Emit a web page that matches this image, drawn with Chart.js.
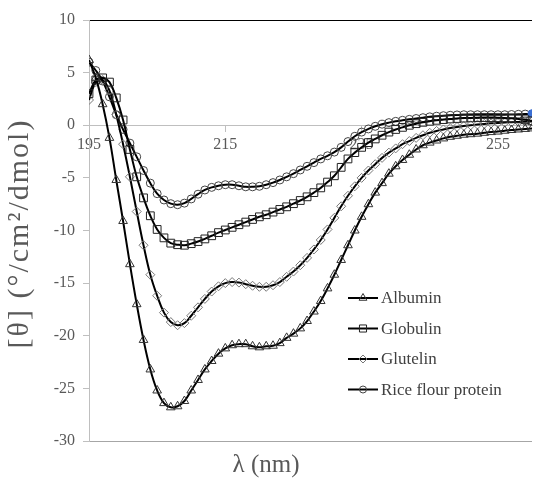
<!DOCTYPE html>
<html>
<head>
<meta charset="utf-8">
<script src="https://cdn.jsdelivr.net/npm/chart.js@4.4.1/dist/chart.umd.min.js"></script>
<style>
  html, body { margin: 0; padding: 0; background: #fff; }
  #wrap { width: 533px; height: 478px; }
</style>
</head>
<body>
<div id="wrap"><canvas id="cd"></canvas></div>
<script>
const wavelength = [195, 196, 197, 198, 199, 200, 201, 202, 203, 204, 205, 206, 207, 208, 209, 210,
  211, 212, 213, 214, 215, 216, 217, 218, 219, 220, 221, 222, 223, 224, 225, 226, 227, 228, 229, 230,
  231, 232, 233, 234, 235, 236, 237, 238, 239, 240, 241, 242, 243, 244, 245, 246, 247, 248, 249, 250,
  251, 252, 253, 254, 255, 256, 257, 258, 259, 260];

const albumin = [6.2, 4.5, 2.0, -1.2, -5.2, -9.1, -13.2, -17.0, -20.4, -23.2, -25.2, -26.4, -26.8, -26.7, -26.2, -25.2,
  -24.2, -23.2, -22.4, -21.7, -21.2, -20.9, -20.8, -20.8, -21.0, -21.1, -21.0, -20.95, -20.7, -20.2, -19.8, -19.3,
  -18.6, -17.7, -16.7, -15.5, -14.2, -12.8, -11.4, -10.0, -8.7, -7.5, -6.4, -5.5, -4.6, -3.9, -3.3, -2.8,
  -2.3, -1.9, -1.65, -1.45, -1.25, -1.1, -1.0, -0.9, -0.85, -0.8, -0.72, -0.65, -0.6, -0.52, -0.45, -0.4,
  -0.35, -0.3];

const globulin = [3.0, 4.3, 4.5, 4.1, 2.6, 0.5, -2.3, -4.9, -6.9, -8.6, -9.9, -10.7, -11.2, -11.35, -11.4, -11.25,
  -11.05, -10.8, -10.5, -10.2, -9.95, -9.7, -9.45, -9.2, -8.95, -8.7, -8.5, -8.25, -8.0, -7.75, -7.45, -7.15,
  -6.8, -6.4, -5.95, -5.4, -4.8, -4.0, -3.2, -2.6, -2.1, -1.65, -1.3, -0.95, -0.65, -0.4, -0.2, 0.0,
  0.15, 0.28, 0.38, 0.47, 0.54, 0.6, 0.64, 0.68, 0.7, 0.72, 0.73, 0.73, 0.72, 0.7, 0.66, 0.6,
  0.52, 0.42];

const glutelin = [2.4, 4.1, 4.3, 3.3, 1.0, -1.8, -4.9, -8.2, -11.4, -14.2, -16.2, -17.8, -18.7, -19.0, -18.8, -18.1,
  -17.3, -16.5, -15.8, -15.3, -15.0, -14.9, -14.95, -15.1, -15.25, -15.35, -15.35, -15.2, -14.9, -14.4, -13.9, -13.3,
  -12.6, -11.8, -10.9, -9.9, -8.8, -7.7, -6.7, -5.8, -5.0, -4.3, -3.7, -3.1, -2.6, -2.2, -1.8, -1.5,
  -1.2, -0.95, -0.72, -0.54, -0.4, -0.27, -0.16, -0.07, 0.0, 0.07, 0.13, 0.18, 0.22, 0.26, 0.29, 0.32,
  0.34, 0.35];

const riceFlour = [6.0, 5.2, 4.2, 2.7, 1.0, -0.4, -1.7, -3.0, -4.3, -5.5, -6.5, -7.1, -7.45, -7.55, -7.4, -7.0,
  -6.55, -6.15, -5.9, -5.75, -5.65, -5.65, -5.75, -5.85, -5.85, -5.8, -5.65, -5.45, -5.2, -4.9, -4.6, -4.25,
  -3.9, -3.55, -3.2, -2.9, -2.55, -2.1, -1.55, -1.05, -0.65, -0.35, -0.1, 0.1, 0.25, 0.37, 0.47, 0.56,
  0.64, 0.72, 0.8, 0.86, 0.91, 0.95, 0.98, 1.0, 1.0, 1.0, 1.0, 1.0, 1.0, 1.0, 1.02, 1.04,
  1.06, 1.1];

const seriesNames = ['Albumin', 'Globulin', 'Glutelin', 'Rice flour protein'];
const xTicks = [195, 215, 235, 255];
const yTicks = [10, 5, 0, -5, -10, -15, -20, -25, -30];
const yTitle = '[θ] (°/cm²/dmol)';

const SERIF = "'Liberation Serif', 'Times New Roman', serif";
const TEXT_GREY = '#595959';

const toPoints = arr => wavelength.map((x, i) => ({ x: x, y: arr[i] }));

// Excel-like legend placed inside the plot area, plus the large y title
const insideLegend = {
    id: 'insideLegend',
    afterDraw(chart) {
        const ctx = chart.ctx;
        const area = chart.chartArea;
        ctx.save();
        ctx.translate(20, (area.top + area.bottom) / 2 + 3);
        ctx.rotate(-Math.PI / 2);
        ctx.letterSpacing = '2px';
        ctx.fillStyle = TEXT_GREY;
        ctx.font = '30px ' + SERIF;
        ctx.textAlign = 'center';
        ctx.textBaseline = 'middle';
        ctx.fillText(yTitle, 0, 0);
        ctx.restore();
    },
    afterDatasetsDraw(chart) {
        const ctx = chart.ctx;
        ctx.save();
        chart.data.datasets.forEach((ds, i) => {
            const y = 298 + i * 30.5;
            ctx.strokeStyle = '#000';
            ctx.lineWidth = 2;
            ctx.beginPath();
            ctx.moveTo(348, y);
            ctx.lineTo(378, y);
            ctx.stroke();
            ctx.strokeStyle = Array.isArray(ds.pointBorderColor) ? ds.pointBorderColor[0] : ds.pointBorderColor;
            ctx.fillStyle = 'rgba(255,255,255,0)';
            ctx.lineWidth = 1;
            Chart.helpers.drawPoint(ctx, {
                pointStyle: ds.pointStyle, radius: ds.pointRadius - 0.5, rotation: 0, borderWidth: 1
            }, 363, y);
            ctx.fillStyle = '#404040';
            ctx.font = '17px ' + SERIF;
            ctx.textAlign = 'left';
            ctx.textBaseline = 'middle';
            ctx.fillText(ds.label, 381, y + 1);
        });
        ctx.restore();
    }
};

const makeSet = (label, arr, style, radius, edge) => ({
    label: label,
    data: toPoints(arr),
    borderColor: '#000',
    borderWidth: 2,
    tension: 0.4,
    pointStyle: style,
    pointRadius: radius,
    pointBorderColor: edge,
    pointBackgroundColor: 'rgba(255,255,255,0)',
    pointBorderWidth: 1
});

const datasets = [
    makeSet(seriesNames[0], albumin, 'triangle', 5, '#333'),
    makeSet(seriesNames[1], globulin, 'rect', 5.5, '#222'),
    makeSet(seriesNames[2], glutelin, 'rectRot', 4.5, '#777'),
    makeSet(seriesNames[3], riceFlour, 'circle', 4, '#444')
];
// last rice flour point is shown selected (blue) in the original
datasets[3].pointBackgroundColor = riceFlour.map((v, i) => i === riceFlour.length - 1 ? '#3b6fd4' : 'rgba(255,255,255,0)');
datasets[3].pointBorderColor = riceFlour.map((v, i) => i === riceFlour.length - 1 ? '#3b6fd4' : '#444');

new Chart(document.getElementById('cd'), {
    type: 'line',
    data: { datasets: datasets },
    plugins: [insideLegend],
    options: {
        responsive: true,
        maintainAspectRatio: false,
        animation: false,
        layout: { autoPadding: false, padding: { left: 0, right: 1, top: 20, bottom: 0 } },
        plugins: {
            legend: { display: false },
            tooltip: { enabled: false },
            title: {
                display: true,
                position: 'bottom',
                text: 'λ (nm)',
                color: TEXT_GREY,
                font: { family: SERIF, size: 25, weight: 'normal', lineHeight: 1 },
                padding: { top: 12, bottom: 0 }
            }
        },
        scales: {
            x: {
                type: 'linear',
                min: 195,
                max: 260,
                position: { y: 0 },
                afterBuildTicks: s => { s.ticks = xTicks.map(v => ({ value: v })); },
                ticks: {
                    color: TEXT_GREY,
                    font: { family: SERIF, size: 16 },
                    padding: 4,
                    maxRotation: 0
                },
                grid: { drawOnChartArea: false, tickLength: 6, color: '#bfbfbf' },
                border: { color: '#bfbfbf', width: 1 }
            },
            y: {
                min: -30,
                max: 10,
                afterBuildTicks: s => { s.ticks = yTicks.map(v => ({ value: v })); },
                afterFit: s => { s.width = 89; },
                ticks: {
                    color: TEXT_GREY,
                    font: { family: SERIF, size: 16 },
                    padding: 8
                },
                grid: {
                    color: c => c.tick.value === 10 ? '#000' : (c.tick.value === -30 ? '#a6a6a6' : 'rgba(0,0,0,0)'),
                    tickColor: '#bfbfbf',
                    tickLength: 6
                },
                border: { color: '#bfbfbf', width: 1 },
                title: { display: false }
            }
        }
    }
});
</script>
</body>
</html>
